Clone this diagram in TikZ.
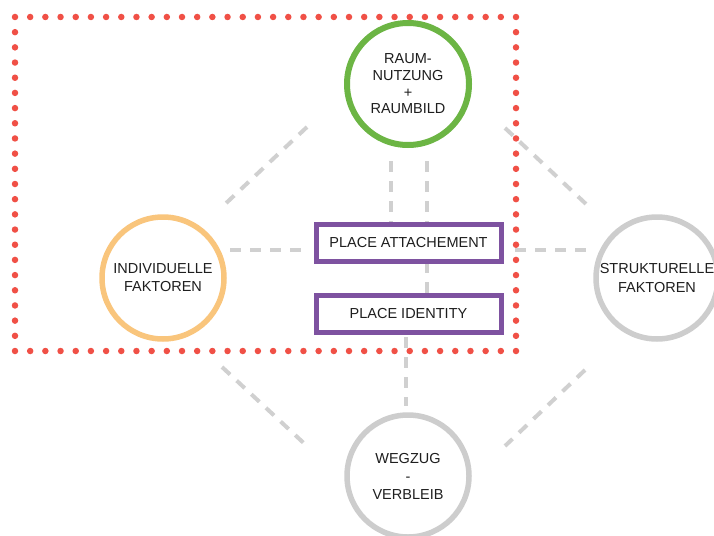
\documentclass[tikz,border=0pt]{standalone}
\usepackage{fontspec}
\setmainfont{Liberation Sans}
\definecolor{ringgreen}{RGB}{108,181,68}
\definecolor{ringorange}{RGB}{249,197,124}
\definecolor{ringgray}{RGB}{205,205,205}
\definecolor{boxpurple}{RGB}{126,82,160}
\definecolor{dotred}{RGB}{240,80,70}
\definecolor{linkgray}{RGB}{208,208,208}
\definecolor{ink}{RGB}{30,30,30}
\begin{document}
\begin{tikzpicture}[x=1pt,y=-1pt,
  ring/.style={circle,draw,line width=5.5pt,fill=white,minimum size=122pt,inner sep=0pt,
    align=center,text=ink,font=\fontsize{14.5}{18}\selectfont},
  labelbox/.style={rectangle,draw=boxpurple,line width=5pt,fill=white,minimum width=185pt,
    minimum height=37pt,inner sep=0pt,text=ink,font=\fontsize{14.5}{17}\selectfont},
  link/.style={draw=linkgray,line width=4pt,dash pattern=on 11pt off 9pt},
  frame/.style={draw=dotred,line width=6.5pt,line cap=round,dash pattern=on 0pt off 15.1818pt}]
\useasboundingbox (0,0) rectangle (714,535);

% free ends of the dashed links
\coordinate (ul1) at (307,127);   \coordinate (ul2) at (222,207);
\coordinate (ur1) at (505,128);   \coordinate (ur2) at (586,204);
\coordinate (ll1) at (222,367);   \coordinate (ll2) at (308,447);
\coordinate (lr1) at (585,370);   \coordinate (lr2) at (505,446);
\coordinate (hl1) at (230,250);   \coordinate (hl2) at (302,250);
\coordinate (hr1) at (515,250);   \coordinate (hr2) at (587,250);
\coordinate (va1) at (390.7,161); \coordinate (va2) at (390.7,222);
\coordinate (vb1) at (426.5,161); \coordinate (vb2) at (426.5,222);
\coordinate (vm1) at (426.7,262); \coordinate (vm2) at (426.7,294);
\coordinate (vd1) at (405.5,337); \coordinate (vd2) at (405.5,406);

% dashed links
\draw[link] (ul1) -- (ul2);
\draw[link] (ur1) -- (ur2);
\draw[link] (ll1) -- (ll2);
\draw[link] (lr1) -- (lr2);
\draw[link] (hl1) -- (hl2);
\draw[link] (hr1) -- (hr2);
\draw[link] (va1) -- (va2);
\draw[link] (vb1) -- (vb2);
\draw[link] (vm1) -- (vm2);
\draw[link] (vd1) -- (vd2);

% central concepts
\node[labelbox] (attach) at (408.5,242.5) {PLACE ATTACHEMENT};
\node[labelbox] (ident) at (408.5,313.7) {PLACE IDENTITY};

% surrounding factors
\node[ring,draw=ringgreen,line width=6pt,font=\fontsize{14.5}{16.7}\selectfont] (raum) at (408,84)
  {RAUM-\\NUTZUNG\\+\\RAUMBILD};
\node[ring,draw=ringorange] (indiv) at (163,278) {INDIVIDUELLE\\FAKTOREN};
\node[ring,draw=ringgray,font=\fontsize{14.5}{19}\selectfont] (strukt) at (657,278) {STRUKTURELLE\\FAKTOREN};
\node[ring,draw=ringgray] (wegzug) at (408,476) {WEGZUG\\-\\VERBLEIB};

% dotted frame
\path[frame] (15,17) rectangle (516,351);
\end{tikzpicture}
\end{document}
